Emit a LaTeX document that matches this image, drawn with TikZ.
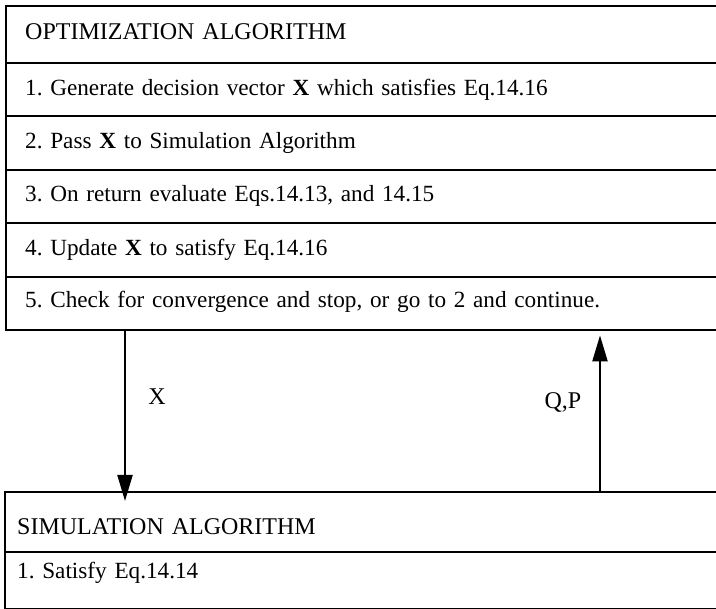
\documentclass[tikz,border=0pt]{standalone}
\usepackage{fontspec}
% Times metrics with slightly tight word spacing
\setmainfont{Liberation Serif}[WordSpace=0.85]
\usetikzlibrary{arrows.meta}
\frenchspacing

\begin{document}
\begin{tikzpicture}[x=1pt,y=-1pt,
  cell/.style={draw=black, line width=2.4pt, anchor=north west,
    minimum width=740pt, inner ysep=0pt, inner xsep=0pt,
    align=left, text width=740pt, font=\fontsize{23.2}{28}\selectfont},
  heading/.style={font=\fontsize{24}{28}\selectfont},
  toprow/.style={cell, text height=16pt, text depth=6pt},
  flow/.style={line width=2.2pt, -{Triangle[length=26pt,width=15pt]}},
  flowlabel/.style={font=\fontsize{24}{28}\selectfont, inner sep=0pt}]
\useasboundingbox (0,0) rectangle (716,609);
\clip (0,0) rectangle (716,609);

% optimization block: heading and five steps
\node[toprow, heading, text depth=7pt, minimum height=57pt] (opthead) at (5,5) {\hspace*{19pt}OPTIMIZATION ALGORITHM};
\node[toprow, text depth=5pt, minimum height=53pt] (step1) at (5,62) {\hspace*{19pt}1. Generate decision vector \textbf{X} which satisfies Eq.14.16};
\node[toprow, minimum height=54pt] (step2) at (5,115) {\hspace*{19pt}2. Pass \textbf{X} to Simulation Algorithm};
\node[toprow, minimum height=53pt] (step3) at (5,169) {\hspace*{19pt}3. On return evaluate Eqs.14.13, and 14.15};
\node[toprow, minimum height=54pt] (step4) at (5,222) {\hspace*{19pt}4. Update \textbf{X} to satisfy Eq.14.16};
\node[toprow, text depth=9pt, minimum height=53pt] (step5) at (5,276) {\hspace*{19pt}5. Check for convergence and stop, or go to 2 and continue.};

% simulation block
\node[cell, heading, text height=28pt, text depth=3pt, minimum height=60pt] (simhead) at (4,491) {\hspace*{12pt}SIMULATION ALGORITHM};
\node[cell, text height=10pt, text depth=15pt, minimum height=57pt] (sim1) at (4,551) {\hspace*{12pt}1. Satisfy Eq.14.14};

% data exchanged between the two blocks
\coordinate (xdown) at ([xshift=120pt]step5.south west);
\coordinate (xend) at ([xshift=121pt, yshift=-10pt]simhead.north west);
\coordinate (qpup) at ([xshift=596pt]simhead.north west);
\coordinate (qpend) at ([xshift=595pt, yshift=-4pt]step5.south west);
\draw[flow] (xdown) -- (xdown |- xend);
\draw[flow] (qpup) -- (qpup |- qpend);
\node[flowlabel] (xlab) at (157,397) {X};
\node[flowlabel] (qplab) at (563,403) {Q,P};
\end{tikzpicture}
\end{document}
